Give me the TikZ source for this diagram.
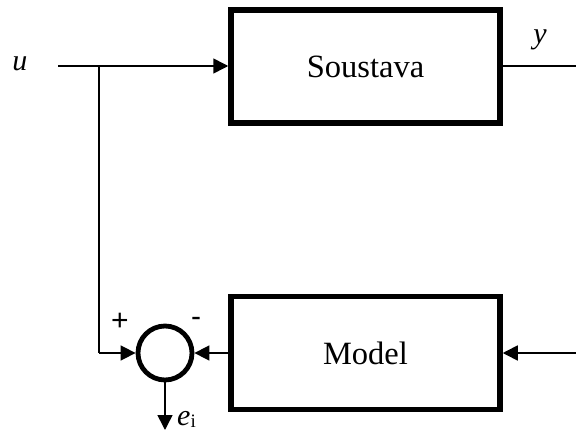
\documentclass[tikz,border=0pt]{standalone}
\usepackage{fontspec}
\setmainfont{Liberation Serif}
\newfontfamily\signfont{Liberation Sans}
\usetikzlibrary{arrows.meta}
\begin{document}
\begin{tikzpicture}[x=1pt,y=1pt,
  blockbox/.style={draw,line width=5.5pt,minimum width=269pt,minimum height=113pt,inner sep=0pt,
    font=\fontsize{32.5}{36}\selectfont},
  sumnode/.style={draw,circle,line width=4.8pt,minimum size=54pt,inner sep=0pt},
  conn/.style={line width=1.6pt},
  arr/.style={conn,-{Triangle[length=15pt,width=15pt]}},
  lbl/.style={inner sep=0pt,font=\fontsize{30}{34}\selectfont\itshape},
  sgn/.style={inner sep=0pt,font=\fontsize{30}{34}\signfont}]
\useasboundingbox (0,0) rectangle (576,432);
\node[blockbox] (sys) at (365.5,365.5) {Soustava};
\node[blockbox] (mod) at (365.5,79) {Model};
\node[sumnode] (sum) at (165,79) {};
\coordinate (uin) at (58,366);
\coordinate (br) at (99,366);
\coordinate (brd) at (99,79);
\coordinate (yout) at (576,366);
\coordinate (min) at (576,79);
\coordinate (eout) at (165,2);
\draw[arr] (uin) -- (sys.west |- uin);
\draw[conn] (br) -- (brd);
\draw[arr] (brd) -- (sum.west);
\draw[conn] (sys.east |- yout) -- (yout);
\draw[arr] (min) -- (mod.east);
\draw[arr] (mod.west) -- (sum.east);
\draw[arr] (sum.south) -- (eout);
\node[lbl] (ulbl) at (20,368) {u};
\node[lbl] (ylbl) at (540,392) {y};
\node[sgn] (plus) at (120,110) {+};
\node[sgn] (minus) at (196,110) {-};
\node[lbl,anchor=base west] (elbl) at (177,7) {e\textup{\fontsize{19}{20}\selectfont\raisebox{-2pt}{i}}};
\end{tikzpicture}
\end{document}
